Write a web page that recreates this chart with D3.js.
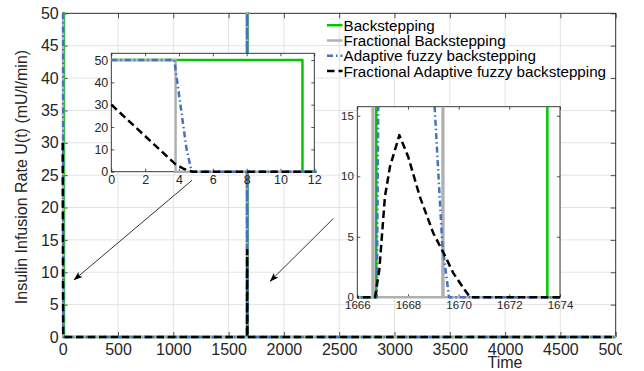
<!DOCTYPE html>
<html>
<head>
<meta charset="utf-8">
<script src="https://cdn.jsdelivr.net/npm/d3@7"></script>
<style>
  body { margin: 0; background: #fff; }
  svg { display: block; font-family: "Liberation Sans", Helvetica, Arial, sans-serif; }
</style>
</head>
<body>
<svg id="chart" width="644" height="371"></svg>
<script>
// series: time t and control input U(t)
const backT = [0, 11.3, 11.3, 1666.75, 1666.75, 1673.5, 1673.5, 5000];
const backU = [50, 50, 0, 0, 50, 50, 0, 0];

const fracBackT = [0, 3.8, 3.8, 1666.6, 1666.62, 1666.64, 1669.36, 1669.38, 1669.4, 5000];
const fracBackU = [50, 50, 0, 0, 50, 0, 0, 50, 0, 0];

const fuzzyT = [0, 3.72, 4.45, 4.75, 1666.77, 1666.95, 1668.15, 1669.35, 1669.62, 5000];
const fuzzyU = [50, 50, 10, 0, 0, 50, 50, 4.5, 0, 0];

const fracFuzzyT = [0, 3.8, 4.3, 4.8, 1666.7, 1666.87, 1667.09, 1667.29, 1667.66, 1668.01,
  1668.47, 1669.0, 1669.42, 1669.79, 1670.21, 1670.45, 5000];
const fracFuzzyU = [30, 3.3, 1.2, 0, 0, 2.3, 8.3, 10.8, 13.4, 11.6, 8.3, 5.3, 3.6, 2.0, 0.7, 0, 0];

const legendLabels = ["Backstepping", "Fractional Backstepping",
  "Adaptive fuzzy backstepping", "Fractional Adaptive fuzzy backstepping"];

const mainXTicks = [0, 500, 1000, 1500, 2000, 2500, 3000, 3500, 4000, 4500, 5000];
const mainYTicks = [0, 5, 10, 15, 20, 25, 30, 35, 40, 45, 50];
const inset1XTicks = [0, 2, 4, 6, 8, 10, 12];
const inset1YTicks = [0, 10, 20, 30, 40, 50];
const inset2XTicks = [1666, 1668, 1670, 1672, 1674];
const inset2YTicks = [0, 5, 10, 15];

// arrow annotations, in main-axes data units [t, U]
const arrowStarts = [[1169, 24.2], [2447, 18.3]];
const arrowEnds = [[102, 8.8], [1875, 8.6]];

const series = [
  {t: backT, u: backU, color: "#00c800", dash: null},
  {t: fracBackT, u: fracBackU, color: "#b0b0b0", dash: null},
  {t: fuzzyT, u: fuzzyU, color: "#4472c4", dash: "6,3,1.5,3"},
  {t: fracFuzzyT, u: fracFuzzyU, color: "#000000", dash: "7.5,4"}
];

const svg = d3.select("#chart");
const axisColor = "#262626";

const defs = svg.append("defs");
defs.append("marker")
  .attr("id", "head")
  .attr("viewBox", "0 -4 9 8")
  .attr("refX", 8.5).attr("refY", 0)
  .attr("markerUnits", "userSpaceOnUse")
  .attr("markerWidth", 9).attr("markerHeight", 8)
  .attr("orient", "auto")
  .append("path")
  .attr("d", "M0,-3.2L9,0L0,3.2L2,0Z")
  .attr("fill", "#000");

function drawAxes(id, opts) {
  const x = d3.scaleLinear().domain(opts.xDomain).range(opts.xRange);
  const y = d3.scaleLinear().domain(opts.yDomain).range(opts.yRange);
  const [x0, x1] = opts.xRange;
  const [y0, y1] = opts.yRange; // y0 bottom, y1 top
  const fmt = d3.format("d");
  const g = svg.append("g").attr("class", id);

  g.append("rect")
    .attr("x", x0).attr("y", y1)
    .attr("width", x1 - x0).attr("height", y0 - y1)
    .attr("fill", "#fff");

  if (opts.grid) {
    g.append("g").selectAll("line").data(opts.xTicks).join("line")
      .attr("x1", d => x(d)).attr("x2", d => x(d))
      .attr("y1", y0).attr("y2", y1)
      .attr("stroke", "#e3e3e3").attr("stroke-width", 1);
    g.append("g").selectAll("line").data(opts.yTicks).join("line")
      .attr("x1", x0).attr("x2", x1)
      .attr("y1", d => y(d)).attr("y2", d => y(d))
      .attr("stroke", "#e3e3e3").attr("stroke-width", 1);
  }

  const tl = opts.tickLen;
  const xb = g.append("g").attr("transform", `translate(0,${y0})`)
    .call(d3.axisBottom(x).tickValues(opts.xTicks).tickSize(-tl).tickPadding(opts.xPad).tickFormat(fmt));
  g.append("g").attr("transform", `translate(0,${y1})`)
    .call(d3.axisTop(x).tickValues(opts.xTicks).tickSize(-tl).tickFormat(""));
  g.append("g").attr("transform", `translate(${x0},0)`)
    .call(d3.axisLeft(y).tickValues(opts.yTicks).tickSize(-tl).tickPadding(opts.yPad).tickFormat(fmt));
  g.append("g").attr("transform", `translate(${x1},0)`)
    .call(d3.axisRight(y).tickValues(opts.yTicks).tickSize(-tl).tickFormat(""));

  g.selectAll(".domain").remove();
  g.selectAll(".tick line").attr("stroke", axisColor).attr("stroke-width", 0.8);
  g.selectAll(".tick text")
    .attr("fill", axisColor)
    .attr("font-size", opts.fontSize)
    .attr("font-family", "Liberation Sans, Helvetica, Arial, sans-serif");

  if (opts.labelClip) {
    defs.append("clipPath").attr("id", id + "-lbl")
      .append("rect").attr("x", 0).attr("y", -5).attr("width", opts.labelClip).attr("height", 40);
    xb.attr("clip-path", `url(#${id}-lbl)`);
  }

  g.append("rect")
    .attr("x", x0).attr("y", y1)
    .attr("width", x1 - x0).attr("height", y0 - y1)
    .attr("fill", "none").attr("stroke", axisColor).attr("stroke-width", 0.9);

  const p = opts.clipPad;
  defs.append("clipPath").attr("id", id + "-clip")
    .append("rect")
    .attr("x", x0 - p[0]).attr("y", y1 - p[1])
    .attr("width", x1 - x0 + p[0] + p[2]).attr("height", y0 - y1 + p[1] + p[3]);

  const line = d3.line().x(d => x(d[0])).y(d => y(d[1]));
  g.append("g").attr("clip-path", `url(#${id}-clip)`)
    .selectAll("path").data(series).join("path")
    .attr("d", s => line(d3.zip(s.t, s.u)))
    .attr("fill", "none")
    .attr("stroke", s => s.color)
    .attr("stroke-width", 2.5)
    .attr("stroke-dasharray", s => s.dash)
    .attr("stroke-linejoin", "round");

  return {x, y, g};
}

const main = drawAxes("main", {
  xDomain: [0, 5000], xRange: [62.7, 615.7],
  yDomain: [0, 50], yRange: [337, 13.3],
  xTicks: mainXTicks, yTicks: mainYTicks,
  tickLen: 5, fontSize: 16, xPad: 6.5, yPad: 4,
  grid: true, clipPad: [3, 3, 3, 3], labelClip: 622
});

// axis titles
svg.append("text")
  .attr("transform", "translate(26.5,177) rotate(-90)")
  .attr("text-anchor", "middle")
  .attr("font-size", 16).attr("fill", axisColor)
  .text("Insulin Infusion Rate U(t) (mU/l/min)");
svg.append("text")
  .attr("x", 505).attr("y", 368)
  .attr("text-anchor", "middle")
  .attr("font-size", 16).attr("fill", axisColor)
  .text("Time");

drawAxes("inset1", {
  xDomain: [0, 12], xRange: [111.3, 314.3],
  yDomain: [0, 53], yRange: [171.7, 53.3],
  xTicks: inset1XTicks, yTicks: inset1YTicks,
  tickLen: 3, fontSize: 12.5, xPad: 3.5, yPad: 3,
  grid: false, clipPad: [2, 0, 2, 2]
});

drawAxes("inset2", {
  xDomain: [1666, 1674], xRange: [357.3, 560],
  yDomain: [0, 15.75], yRange: [297.3, 106.7],
  xTicks: inset2XTicks, yTicks: inset2YTicks,
  tickLen: 3, fontSize: 11.5, xPad: 4, yPad: 3.5,
  grid: false, clipPad: [0, 0, 0, 2]
});

// legend (no box)
const leg = svg.append("g").attr("class", "legend");
const rowY = d3.scaleLinear().domain([0, 1]).range([30.6, 45.9]);
legendLabels.forEach((label, i) => {
  const s = series[i];
  const yy = rowY(i);
  leg.append("line")
    .attr("x1", 327).attr("x2", 342.5)
    .attr("y1", yy - 5.4).attr("y2", yy - 5.4)
    .attr("stroke", s.color).attr("stroke-width", 2.5)
    .attr("stroke-dasharray", s.dash);
  leg.append("text")
    .attr("x", 343.5).attr("y", yy)
    .attr("font-size", 15.2).attr("fill", "#000")
    .text(label);
});

// arrows pointing from the insets to the zoomed regions
svg.append("g").selectAll("line").data(d3.zip(arrowStarts, arrowEnds)).join("line")
  .attr("x1", d => main.x(d[0][0])).attr("y1", d => main.y(d[0][1]))
  .attr("x2", d => main.x(d[1][0])).attr("y2", d => main.y(d[1][1]))
  .attr("stroke", "#000").attr("stroke-width", 0.8)
  .attr("marker-end", "url(#head)");
</script>
</body>
</html>
